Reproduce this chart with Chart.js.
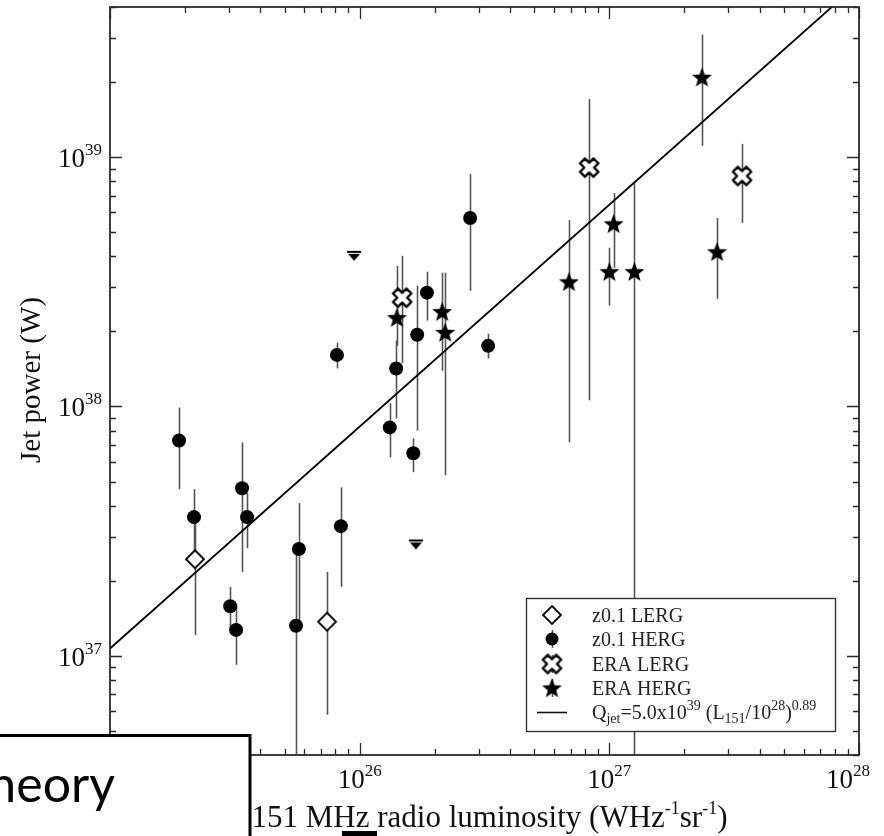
<!DOCTYPE html>
<html>
<head>
<meta charset="utf-8">
<script src="https://cdn.jsdelivr.net/npm/chart.js@4.4.1/dist/chart.umd.min.js"></script>
<style>
  html, body { margin: 0; padding: 0; background: #fff; }
  #c { display: block; }
</style>
</head>
<body>
<canvas id="c" width="884" height="836"></canvas>
<script>
// 151 MHz luminosity L (W Hz^-1 sr^-1) against jet power Q (W), with Q error ranges.

// z0.1 LERG
const lergZL  = [2.19e25, 7.4e25];
const lergZQ  = [2.44e37, 1.37e37];
const lergZLo = [1.21e37, 5.8e36];
const lergZHi = [3.6e37, 2.17e37];

// z0.1 HERG
const hergZL  = [1.89e25, 2.17e25, 3.38e25, 3.54e25, 3.03e25, 3.2e25, 5.56e25, 5.71e25, 8.41e25,
                 1.32e26, 8.11e25, 1.4e26, 1.7e26, 1.86e26, 2.77e26, 3.27e26, 1.64e26];
const hergZQ  = [7.3e37, 3.6e37, 4.7e37, 3.6e37, 1.58e37, 1.27e37, 1.32e37, 2.68e37, 3.31e37,
                 8.24e37, 1.61e38, 1.42e38, 1.94e38, 2.86e38, 5.7e38, 1.75e38, 6.49e37];
const hergZLo = [4.66e37, 2.44e37, 2.17e37, 2.7e37, 1.27e37, 9.2e36, 2.0e36, 1.32e37, 1.89e37,
                 6.25e37, 1.42e38, 8.95e37, 8.0e37, 2.21e38, 2.91e38, 1.56e38, 5.45e37];
const hergZHi = [9.9e37, 4.66e37, 7.18e37, 4.49e37, 1.89e37, 1.58e37, 2.8e37, 4.1e37, 4.74e37,
                 1.03e38, 1.8e38, 1.84e38, 3.05e38, 3.47e38, 8.55e38, 1.96e38, 7.45e37];

// z0.1 HERG upper limits on jet power
const limitL = [9.5e25, 1.68e26];
const limitQ = [4.17e38, 2.9e37];

// ERA LERG
const lergEL  = [1.48e26, 8.3e26, 3.4e27];
const lergEQ  = [2.73e38, 9.08e38, 8.4e38];
const lergELo = [1.49e38, 1.06e38, 5.45e38];
const lergEHi = [4.02e38, 1.71e39, 1.13e39];

// ERA HERG
const hergEL  = [1.41e26, 2.14e26, 2.2e26, 6.89e26, 1.0e27, 1.04e27, 1.26e27, 2.35e27, 2.7e27];
const hergEQ  = [2.27e38, 2.4e38, 1.98e38, 3.16e38, 3.47e38, 5.4e38, 3.47e38, 2.09e39, 4.17e38];
const hergELo = [1.75e38, 1.39e38, 5.3e37, 7.18e37, 2.54e38, 3.6e38, 1.0e36, 1.11e39, 2.7e38];
const hergEHi = [3.66e38, 3.44e38, 3.44e38, 5.6e38, 4.33e38, 7.18e38, 8.0e38, 3.1e39, 5.7e38];

// Fitted relation Q_jet = norm * (L151 / pivot)^slope
const fitNorm = 5.0e39;
const fitPivot = 1e28;
const fitSlope = 0.89;

// Axis ranges and labelled decades
const xRange = [1e25, 1e28];
const yRange = [4e36, 4e39];
const xTickExps = [25, 26, 27, 28];
const yTickExps = [37, 38, 39];

const seriesNames = ['z0.1 LERG', 'z0.1 HERG', 'ERA LERG', 'ERA HERG'];
const xTitle = ['151 MHz radio luminosity (WHz', '-1', 'sr', '-1', ')'];
const yTitle = 'Jet power (W)';
const noteText = 'Theory';

const SERIF = "'Liberation Serif', 'DejaVu Serif', serif";

// ---- marker images ----
function mkCanvas(w, h) {
  const c = document.createElement('canvas');
  c.width = w; c.height = h;
  return c;
}
function diamondImage(r) {
  const s = Math.ceil(2 * r + 4), c = mkCanvas(s, s), g = c.getContext('2d');
  g.translate(s / 2, s / 2);
  g.beginPath();
  g.moveTo(0, -r); g.lineTo(r, 0); g.lineTo(0, r); g.lineTo(-r, 0); g.closePath();
  g.fillStyle = '#fff'; g.fill();
  g.lineWidth = 1.8; g.strokeStyle = '#000'; g.stroke();
  return c;
}
function starImage(r) {
  const s = Math.ceil(2 * r + 4), c = mkCanvas(s, s), g = c.getContext('2d');
  g.translate(s / 2, s / 2 + r * 0.08);
  g.beginPath();
  for (let i = 0; i < 10; i++) {
    const rr = i % 2 ? r * 0.42 : r;
    const ang = -Math.PI / 2 + i * Math.PI / 5;
    g.lineTo(rr * Math.cos(ang), rr * Math.sin(ang));
  }
  g.closePath();
  g.fillStyle = '#000'; g.fill();
  return c;
}
function crossImage(b, a) {
  const s = Math.ceil(2 * b + 6), c = mkCanvas(s, s), g = c.getContext('2d');
  g.translate(s / 2, s / 2);
  g.rotate(Math.PI / 4);
  const p = [[-a, -b], [a, -b], [a, -a], [b, -a], [b, a], [a, a], [a, b], [-a, b], [-a, a], [-b, a], [-b, -a], [-a, -a]];
  g.beginPath();
  p.forEach(([x, y], i) => i ? g.lineTo(x, y) : g.moveTo(x, y));
  g.closePath();
  g.fillStyle = '#fff'; g.fill();
  g.lineJoin = 'round'; g.lineWidth = 2.4; g.strokeStyle = '#000'; g.stroke();
  return c;
}
function limitImage() {
  const c = mkCanvas(18, 28), g = c.getContext('2d');
  g.strokeStyle = '#000'; g.lineWidth = 2;
  g.beginPath(); g.moveTo(2, 14); g.lineTo(16, 14); g.stroke();
  g.beginPath(); g.moveTo(3, 16); g.lineTo(15, 16); g.lineTo(9, 23); g.closePath();
  g.fillStyle = '#000'; g.fill();
  return c;
}

const diamondImg = diamondImage(9);
const starImg = starImage(10.5);
const crossImg = crossImage(9.5, 3.5);
const limitImg = limitImage();

const pts = (xs, ys) => xs.map((x, i) => ({ x, y: ys[i] }));

// ---- helpers for text with raised / lowered parts ----
function richWidth(ctx, parts) {
  let w = 0;
  parts.forEach(p => { ctx.font = p.size + 'px ' + SERIF; w += ctx.measureText(p.t).width; });
  return w;
}
function drawRich(ctx, parts, x, y) {
  let cx = x;
  parts.forEach(p => {
    ctx.font = p.size + 'px ' + SERIF;
    ctx.fillText(p.t, cx, y + (p.dy || 0));
    cx += ctx.measureText(p.t).width;
  });
  return cx;
}
function powerParts(exp, main, sup) {
  return [{ t: '10', size: main }, { t: String(exp), size: sup, dy: -Math.round(main * 0.46) }];
}

// ---- error bars behind the markers ----
const errorBars = {
  id: 'errorBars',
  beforeDatasetsDraw(chart) {
    const { ctx, chartArea: a, scales: { x, y } } = chart;
    ctx.save();
    ctx.beginPath(); ctx.rect(a.left, a.top, a.width, a.height); ctx.clip();
    ctx.strokeStyle = '#555'; ctx.lineWidth = 1.6;
    chart.data.datasets.forEach(ds => {
      if (!ds.errLo) return;
      ds.data.forEach((p, i) => {
        const px = Math.round(x.getPixelForValue(p.x)) + 0.5;
        ctx.beginPath();
        ctx.moveTo(px, y.getPixelForValue(ds.errHi[i]));
        ctx.lineTo(px, y.getPixelForValue(ds.errLo[i]));
        ctx.stroke();
      });
    });
    ctx.restore();
  }
};

// ---- frame, ticks, labels, titles, legend and note box ----
const decorations = {
  id: 'decorations',
  afterDraw(chart) {
    const { ctx, chartArea: a, scales: { x, y } } = chart;
    ctx.save();
    ctx.strokeStyle = '#2a2a2a';
    ctx.lineWidth = 1.3;
    // minor and major ticks on all four sides
    ctx.beginPath();
    for (let e = 24; e <= 28; e++) {
      for (let m = 1; m <= 9; m++) {
        const v = m * Math.pow(10, e);
        if (v < xRange[0] * 0.999 || v > xRange[1] * 1.001) continue;
        const px = Math.round(x.getPixelForValue(v)) + 0.5;
        const len = m === 1 ? 12 : 6;
        ctx.moveTo(px, a.bottom); ctx.lineTo(px, a.bottom - len);
        ctx.moveTo(px, a.top); ctx.lineTo(px, a.top + len);
      }
    }
    for (let e = 36; e <= 39; e++) {
      for (let m = 1; m <= 9; m++) {
        const v = m * Math.pow(10, e);
        if (v < yRange[0] * 0.999 || v > yRange[1] * 1.001) continue;
        const py = Math.round(y.getPixelForValue(v)) + 0.5;
        const len = m === 1 ? 12 : 6;
        ctx.moveTo(a.left, py); ctx.lineTo(a.left + len, py);
        ctx.moveTo(a.right, py); ctx.lineTo(a.right - len, py);
      }
    }
    ctx.stroke();
    // frame
    ctx.lineWidth = 1.8;
    ctx.strokeRect(a.left, a.top, a.width, a.height);

    // tick labels
    ctx.fillStyle = '#111';
    ctx.textBaseline = 'alphabetic';
    ctx.textAlign = 'left';
    xTickExps.forEach(e => {
      const parts = powerParts(e, 27, 17);
      const w = richWidth(ctx, parts);
      const px = x.getPixelForValue(Math.pow(10, e));
      const cx = Math.min(px, chart.width - 14 - w / 2);
      drawRich(ctx, parts, cx - w / 2, a.bottom + 33);
    });
    yTickExps.forEach(e => {
      const parts = powerParts(e, 27, 17);
      const w = richWidth(ctx, parts);
      const py = y.getPixelForValue(Math.pow(10, e));
      drawRich(ctx, parts, a.left - 8 - w, py + 10);
    });

    // axis titles
    const tParts = [
      { t: xTitle[0], size: 31 }, { t: xTitle[1], size: 18, dy: -13 },
      { t: xTitle[2], size: 31 }, { t: xTitle[3], size: 18, dy: -13 }, { t: xTitle[4], size: 31 }
    ];
    const tw = richWidth(ctx, tParts);
    drawRich(ctx, tParts, 489.5 - tw / 2, a.bottom + 72);

    ctx.save();
    ctx.translate(40, (a.top + a.bottom) / 2 - 1);
    ctx.rotate(-Math.PI / 2);
    ctx.font = '29px ' + SERIF;
    ctx.textAlign = 'center';
    ctx.fillText(yTitle, 0, 0);
    ctx.restore();

    // legend
    const lx = 526, ly = 598, lw = 309, lh = 133;
    ctx.fillStyle = '#fff';
    ctx.fillRect(lx, ly, lw, lh);
    ctx.strokeStyle = '#333'; ctx.lineWidth = 1.4;
    ctx.strokeRect(lx + 0.5, ly + 0.5, lw, lh);
    const symX = 552, textX = 592;
    const rows = [615, 639, 664, 688, 712];
    const imgs = [diamondImg, null, crossImg, starImg];
    seriesNames.forEach((name, i) => {
      const ry = rows[i];
      ctx.strokeStyle = '#555'; ctx.lineWidth = 1.5;
      if (i > 0) { ctx.beginPath(); ctx.moveTo(symX + 0.5, ry - 9); ctx.lineTo(symX + 0.5, ry + 9); ctx.stroke(); }
      if (imgs[i]) {
        ctx.drawImage(imgs[i], symX - imgs[i].width / 2, ry - imgs[i].height / 2);
      } else {
        ctx.beginPath(); ctx.arc(symX, ry, 6.5, 0, Math.PI * 2); ctx.fillStyle = '#000'; ctx.fill();
      }
      ctx.fillStyle = '#222';
      ctx.font = '20px ' + SERIF;
      ctx.fillText(name, textX, ry + 7);
    });
    ctx.strokeStyle = '#111'; ctx.lineWidth = 1.6;
    ctx.beginPath(); ctx.moveTo(537, rows[4] + 0.5); ctx.lineTo(567, rows[4] + 0.5); ctx.stroke();
    const normExp = Math.floor(Math.log10(fitNorm));
    const normMant = (fitNorm / Math.pow(10, normExp)).toFixed(1);
    const pivotExp = Math.round(Math.log10(fitPivot));
    const fitParts = [
      { t: 'Q', size: 20 }, { t: 'jet', size: 14, dy: 4 },
      { t: '=' + normMant + 'x10', size: 20 }, { t: String(normExp), size: 14, dy: -9 },
      { t: ' (L', size: 20 }, { t: '151', size: 14, dy: 4 },
      { t: '/10', size: 20 }, { t: String(pivotExp), size: 14, dy: -9 },
      { t: ')', size: 20 }, { t: fitSlope.toFixed(2), size: 14, dy: -9 }
    ];
    ctx.fillStyle = '#222';
    drawRich(ctx, fitParts, textX, rows[4] + 7);

    // note box laid over the lower left corner
    ctx.fillStyle = '#fff';
    ctx.fillRect(-20, 735, 270, 120);
    ctx.strokeStyle = '#000'; ctx.lineWidth = 3;
    ctx.strokeRect(-20, 735.5, 270, 120);
    ctx.fillStyle = '#000';
    ctx.font = "50px Lato, 'Open Sans', sans-serif";
    ctx.textAlign = 'right';
    ctx.fillText(noteText, 115, 802);
    ctx.fillRect(342, 831, 35, 6);
    ctx.restore();
  }
};

new Chart(document.getElementById('c'), {
  type: 'scatter',
  data: {
    datasets: [
      { label: seriesNames[0], data: pts(lergZL, lergZQ), errLo: lergZLo, errHi: lergZHi,
        pointStyle: diamondImg },
      { label: seriesNames[1], data: pts(hergZL, hergZQ), errLo: hergZLo, errHi: hergZHi,
        pointStyle: 'circle', pointRadius: 7, backgroundColor: '#000', borderColor: '#000', borderWidth: 0 },
      { label: 'z0.1 HERG upper limit', data: pts(limitL, limitQ), pointStyle: limitImg },
      { label: seriesNames[2], data: pts(lergEL, lergEQ), errLo: lergELo, errHi: lergEHi,
        pointStyle: crossImg },
      { label: seriesNames[3], data: pts(hergEL, hergEQ), errLo: hergELo, errHi: hergEHi,
        pointStyle: starImg },
      { label: 'fit', type: 'line', showLine: true, pointRadius: 0,
        borderColor: '#000', borderWidth: 1.8,
        data: xRange.map(L => ({ x: L, y: fitNorm * Math.pow(L / fitPivot, fitSlope) })) }
    ]
  },
  options: {
    responsive: false,
    animation: false,
    devicePixelRatio: 1,
    layout: { padding: { left: 0, top: 6, right: 25, bottom: 0 } },
    plugins: { legend: { display: false }, tooltip: { enabled: false } },
    scales: {
      x: {
        type: 'logarithmic', min: xRange[0], max: xRange[1],
        grid: { display: false }, border: { display: false }, ticks: { display: false },
        afterFit(s) { s.height = 81; }
      },
      y: {
        type: 'logarithmic', min: yRange[0], max: yRange[1],
        grid: { display: false }, border: { display: false }, ticks: { display: false },
        afterFit(s) { s.width = 110; }
      }
    }
  },
  plugins: [errorBars, decorations]
});
</script>
</body>
</html>
